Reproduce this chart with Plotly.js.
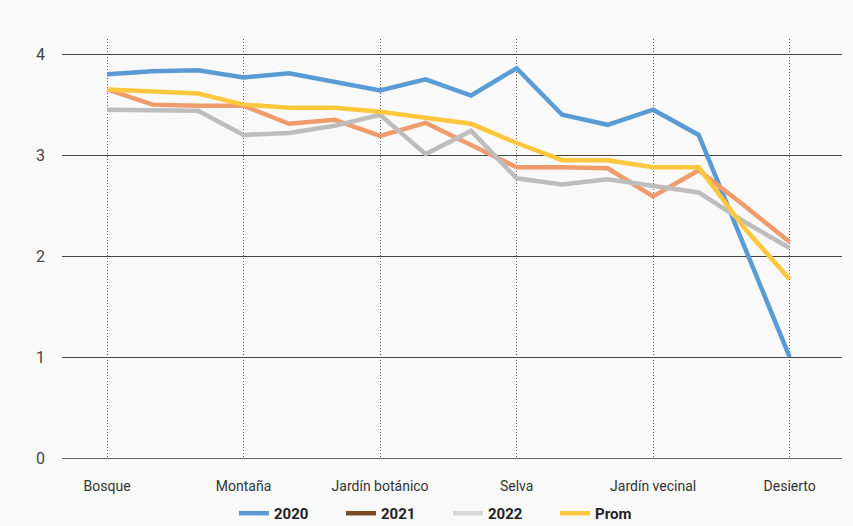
<!DOCTYPE html>
<html><head><meta charset="utf-8">
<script src="https://cdn.plot.ly/plotly-3.0.1.min.js"></script>
<style>html,body{margin:0;padding:0;background:#f9f9f9;}#chart{width:853px;height:526px;}</style>
</head><body><div id="chart"></div>
<script>
const xIndex = [0,1,2,3,4,5,6,7,8,9,10,11,12,13,14,15];
const tickPositions = [0,3,6,9,12,15];
const tickLabels = ['Bosque','Montaña','Jardín botánico','Selva','Jardín vecinal','Desierto'];
const y2020 = [3.80,3.83,3.84,3.77,3.81,3.73,3.64,3.75,3.59,3.86,3.40,3.30,3.45,3.20,2.10,1.00];
const y2021 = [3.65,3.50,3.49,3.49,3.31,3.35,3.19,3.32,3.10,2.88,2.88,2.87,2.59,2.85,2.50,2.14];
const y2022 = [3.45,3.45,3.44,3.20,3.22,3.29,3.40,3.01,3.24,2.77,2.71,2.76,2.69,2.63,2.34,2.08];
const yProm = [3.65,3.63,3.61,3.50,3.47,3.47,3.43,3.37,3.31,3.12,2.95,2.95,2.88,2.88,2.28,1.77];
const seriesNames = ['2020','2021','2022','Prom'];
const lineColors = ['#5b9bd5','#ef9b6b','#bdbdbd','#ffc73d'];
const legendColors = ['#5b9bd5','#7b4b22','#d6d6d6','#ffc73d'];
const series = [y2020,y2021,y2022,yProm];

const traces = [];
series.forEach((ys,k)=>{
  traces.push({x:xIndex,y:ys,type:'scatter',mode:'lines',name:seriesNames[k],
    line:{color:lineColors[k],width:4.5},showlegend:false,hoverinfo:'y'});
});
seriesNames.forEach((nm,k)=>{
  traces.push({x:[null],y:[null],type:'scatter',mode:'lines',name:nm,
    line:{color:legendColors[k],width:4.5},showlegend:true});
});

const layout = {
  width:853,height:526,
  paper_bgcolor:'#f9f9f9',plot_bgcolor:'#f9f9f9',
  margin:{l:62,r:11,t:39,b:68,autoexpand:false},
  font:{family:'Roboto, sans-serif',color:'#333'},
  xaxis:{range:[-0.99,16.15],tickvals:tickPositions,ticktext:tickLabels,
    showgrid:true,gridcolor:'#555',griddash:'1px,2px',gridwidth:1,
    zeroline:false,showline:false,ticks:'',automargin:false,
    tickfont:{size:14,color:'#333'},ticklabelstandoff:18},
  yaxis:{range:[0,4.15],tickvals:[0,1,2,3,4],showgrid:true,gridcolor:'#444',gridwidth:1,
    zeroline:true,zerolinecolor:'#666',zerolinewidth:1,showline:false,ticks:'',automargin:false,
    tickfont:{size:16,color:'#444'},ticklabelstandoff:16},
  legend:{orientation:'h',x:0.2205,xanchor:'left',y:-0.093,yanchor:'top',
    entrywidth:62,entrywidthmode:'pixels',
    font:{size:15,color:'#222',weight:'bold'},bgcolor:'rgba(0,0,0,0)'},
  showlegend:true
};
Plotly.newPlot('chart',traces,layout,{displayModeBar:false,staticPlot:true});
</script></body></html>
